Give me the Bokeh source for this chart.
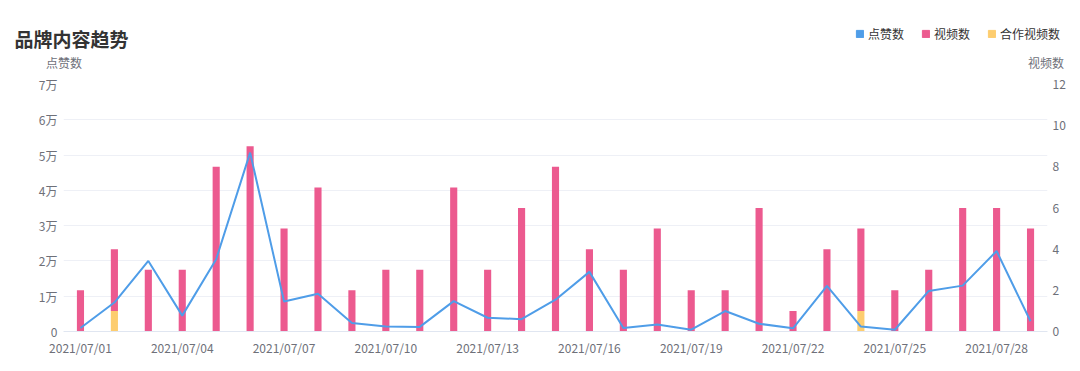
from bokeh.plotting import figure
from bokeh.layouts import column
from bokeh.models import (ColumnDataSource, Range1d, LinearAxis, FixedTicker, Label,
                          Legend, LegendItem)
from bokeh.embed import file_html
from bokeh.resources import INLINE

# ---------------- data ----------------
dates = ["2021/07/%02d" % d for d in range(1, 30)]
likes = [1000, 8200, 20000, 4500, 20500, 50700, 8500, 10700, 2400, 1400,
         1300, 8600, 3900, 3500, 9000, 16900, 1000, 2000, 500, 5800,
         2200, 900, 12900, 1400, 500, 11500, 13000, 22800, 2900]
videos = [2, 3, 3, 3, 8, 9, 5, 7, 2, 3,
          3, 7, 3, 6, 8, 4, 3, 5, 2, 2,
          6, 1, 4, 4, 2, 3, 6, 6, 5]
coop_videos = [0, 1, 0, 0, 0, 0, 0, 0, 0, 0,
               0, 0, 0, 0, 0, 0, 0, 0, 0, 0,
               0, 0, 0, 1, 0, 0, 0, 0, 0]
left_ticks = [0, 10000, 20000, 30000, 40000, 50000, 60000, 70000]
left_tick_labels = ["0", "1万", "2万", "3万", "4万", "5万", "6万", "7万"]
right_ticks = [0, 2, 4, 6, 8, 10, 12]
x_label_idx = list(range(0, 29, 3))
title_text = "品牌内容趋势"
series_names = ["点赞数", "视频数", "合作视频数"]
axis_names = ["点赞数", "视频数"]

BLUE = "#4f9de8"
PINK = "#ec5a8f"
YELLOW = "#fdcd6f"
GRID = "#eef0f6"
TXT = "#6e7079"
FONT = "Noto Sans CJK SC"
W, H_HEAD, H_MAIN = 1080, 72, 299

idx = list(range(len(dates)))
src = ColumnDataSource(dict(x=idx, likes=likes, videos=videos, coop=coop_videos))

# ---------------- header (title, legend, axis names) ----------------
hdr = figure(width=W, height=H_HEAD, output_backend="svg", toolbar_location=None,
             x_range=Range1d(0, W), y_range=Range1d(H_HEAD, 0),
             x_axis_location=None, y_axis_location=None,
             min_border_left=0, min_border_right=0, min_border_top=0, min_border_bottom=0)
hdr.frame_align = False
hdr.outline_line_color = None
hdr.grid.visible = False
hdr.background_fill_color = "white"
hdr.border_fill_color = "white"

hdr.add_layout(Label(x=14, y=38, text=title_text, text_font=FONT, text_font_size="19px",
                     text_font_style="bold", text_color="#333333",
                     text_baseline="middle", text_align="left"))
hdr.add_layout(Label(x=63.5, y=62, text=axis_names[0], text_font=FONT, text_font_size="12px",
                     text_color=TXT, text_baseline="middle", text_align="center"))
hdr.add_layout(Label(x=1045.5, y=62, text=axis_names[1], text_font=FONT, text_font_size="12px",
                     text_color=TXT, text_baseline="middle", text_align="center"))

# hidden proxies (same data) only to give the legend its swatches
px_like = hdr.vbar(x="x", top="likes", width=0.2, source=src, color=BLUE, visible=False)
px_vid = hdr.vbar(x="x", top="videos", width=0.2, source=src, color=PINK, visible=False)
px_coop = hdr.vbar(x="x", top="coop", width=0.2, source=src, color=YELLOW, visible=False)

legend = Legend(items=[LegendItem(label=series_names[0], renderers=[px_like]),
                       LegendItem(label=series_names[1], renderers=[px_vid]),
                       LegendItem(label=series_names[2], renderers=[px_coop])],
                location=(855, H_HEAD - 42), orientation="horizontal",
                glyph_width=9, glyph_height=9, label_standoff=4, spacing=17,
                padding=0, margin=0, border_line_color=None, background_fill_alpha=0,
                inactive_fill_alpha=0,
                label_text_font=FONT, label_text_font_size="12px", label_text_color="#333333",
                label_height=14)
hdr.add_layout(legend, "center")

# ---------------- main chart ----------------
p = figure(width=W, height=H_MAIN, output_backend="svg", toolbar_location=None,
           x_range=Range1d(-0.5, len(dates) - 0.5), y_range=Range1d(0, 70000),
           min_border_left=63, min_border_right=33, min_border_top=12, min_border_bottom=40)
p.frame_align = False
p.outline_line_color = None
p.background_fill_color = "white"
p.border_fill_color = "white"
p.extra_y_ranges = {"right": Range1d(0, 12)}

bar_r = p.vbar_stack(["coop", "videos"], x="x", width=0.21, source=src,
                     color=[YELLOW, PINK], line_width=0, y_range_name="right")
line_r = p.line(x="x", y="likes", source=src, line_color=BLUE, line_width=2)

xa = p.xaxis[0]
xa.ticker = FixedTicker(ticks=x_label_idx)
xa.major_label_overrides = {i: dates[i] for i in x_label_idx}
ya = p.yaxis[0]
ya.ticker = FixedTicker(ticks=left_ticks)
ya.major_label_overrides = {t: l for t, l in zip(left_ticks, left_tick_labels)}
ra = LinearAxis(y_range_name="right", ticker=FixedTicker(ticks=right_ticks))
p.add_layout(ra, "right")

for ax in (xa, ya, ra):
    ax.major_tick_line_color = None
    ax.minor_tick_line_color = None
    ax.major_tick_out = 0
    ax.major_tick_in = 0
    ax.minor_tick_out = 0
    ax.minor_tick_in = 0
    ax.major_label_text_font = FONT
    ax.major_label_text_font_size = "12px"
    ax.major_label_text_color = TXT
ya.axis_line_color = None
ra.axis_line_color = None
xa.axis_line_color = "#e0e6f1"
ya.major_label_standoff = 6
ra.major_label_standoff = 5
xa.major_label_standoff = 7

p.xgrid.grid_line_color = None
p.ygrid.grid_line_color = GRID
p.ygrid.ticker = FixedTicker(ticks=left_ticks)

layout = column(hdr, p, spacing=0)
open("out.html", "w").write(file_html(layout, INLINE))
